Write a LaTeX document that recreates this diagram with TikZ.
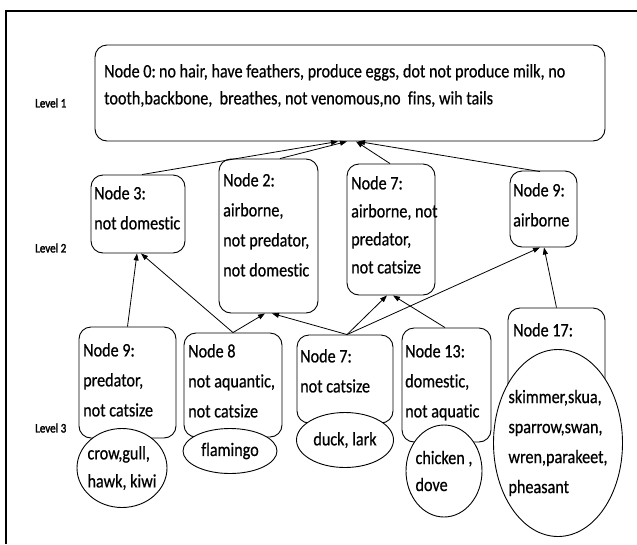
\documentclass[tikz,border=0pt]{standalone}
\usepackage{fontspec}
\setmainfont{Carlito}[FakeStretch=0.85, FakeBold=0.6, Ligatures=NoCommon]
\newfontfamily\lvlfont{Carlito}[FakeStretch=0.85, FakeBold=2, Ligatures=NoCommon]
\usetikzlibrary{arrows.meta,shapes.geometric}
\begin{document}
\begin{tikzpicture}[x=1pt,y=-1pt,
  box/.style={draw, rounded corners=12pt, line width=0.9pt, inner sep=0pt},
  blob/.style={draw, ellipse, fill=white, line width=0.9pt, inner sep=-30pt, align=left,
    font=\fontsize{19}{28}\selectfont},
  txt/.style={anchor=north west, inner sep=0pt, align=left, font=\fontsize{19}{30}\selectfont},
  lvl/.style={anchor=west, inner sep=0pt, font=\lvlfont\fontsize{13}{15}\selectfont},
  link/.style={line width=0.8pt, -{Triangle[length=7pt,width=5pt]}}]
\useasboundingbox (0,0) rectangle (637,544);
\draw[line width=2pt] (637,10.5) -- (6,10.5) -- (6,544);

% level labels
\node[lvl] (l1) at (35,103) {Level 1};
\node[lvl] (l2) at (35,248) {Level 2};
\node[lvl] (l3) at (35,428) {Level 3};

% level 1
\node[box, minimum width=510, minimum height=96] (n0) at (350,93) {};
\node[txt, font=\fontsize{19}{27}\selectfont] (t0) at (104,64)
  {Node 0:\,no hair, have feathers, produce eggs, dot not produce milk, no\\
   tooth,backbone,\ \ breathes,\ not venomous,no\ \ fins, wih tails};

% level 2
\node[box, minimum width=94, minimum height=78] (n3) at (138,214) {};
\node[txt] (t3) at (94,186) {Node 3:\\not domestic};
\node[box, minimum width=99, minimum height=154] (n2) at (268.5,236) {};
\node[txt] (t2) at (223,173) {Node 2:\\airborne,\\not predator,\\not domestic};
\node[box, minimum width=88, minimum height=131] (n7) at (391,229.5) {};
\node[txt, font=\fontsize{19}{28}\selectfont] (t7) at (351,176) {Node 7:\\airborne,\ not\\predator,\\not catsize};
\node[box, minimum width=67, minimum height=76] (n9) at (543.5,209) {};
\node[txt] (t9) at (513,183) {Node 9:\\airborne};

% level 3 boxes
\node[box, minimum width=97, minimum height=111] (m9) at (127.5,382.5) {};
\node[txt] (s9) at (83,343) {Node 9:\\predator,\\not catsize};
\node[box, minimum width=98, minimum height=104] (m8) at (233,385) {};
\node[txt] (s8) at (188,344) {Node 8\\not aquantic,\\not catsize};
\node[box, minimum width=96, minimum height=88] (m7) at (345,379) {};
\node[txt] (s7) at (300,349) {Node 7:\\not catsize};
\node[box, minimum width=89, minimum height=114] (m13) at (446.5,385) {};
\node[txt] (s13) at (405,344) {Node 13:\\domestic,\\not aquatic};
\node[box, minimum width=97, minimum height=122] (m17) at (556.5,369) {};
\node[txt] (s17) at (513,323) {Node 17:};

% leaves
\node[blob, minimum width=90, minimum height=79] (e9) at (122,468) {crow,gull,\\hawk, kiwi};
\node[blob, minimum width=94, minimum height=45] (e8) at (230,451) {flamingo};
\node[blob, minimum width=97, minimum height=55] (e7) at (345,440) {duck, lark};
\node[blob, minimum width=76, minimum height=92, font=\fontsize{19}{27}\selectfont] (e13) at (444,471) {chicken ,\\dove};
\node[blob, minimum width=129, minimum height=187, font=\fontsize{19}{30}\selectfont] (e17) at (558,443)
  {skimmer,skua,\\sparrow,swan,\\wren,parakeet,\\pheasant};

% level 2 -> level 1
\draw[link] ([xshift=4]n3.north) -- ([xshift=-12]n0.south);
\draw[link] ([xshift=11.5]n2.north) -- ([xshift=-3]n0.south);
\draw[link] ([xshift=-1]n7.north) -- ([xshift=6]n0.south);
\draw[link] ([xshift=-3.5,yshift=-1]n9.north) -- ([xshift=8]n0.south);

% level 3 -> level 2
\draw[link] (m9.north) -- ([xshift=-1]n3.south);
\draw[link] (m8.north) -- ([xshift=3]n3.south);
\draw[link] (m8.north) -- ([xshift=-3.5]n2.south);
\draw[link] ([xshift=2]m7.north) -- ([xshift=3.5]n2.south);
\draw[link] ([xshift=2]m7.north) -- ([xshift=-4]n7.south);
\draw[link] ([xshift=2]m7.north) -- ([xshift=-3.5]n9.south);
\draw[link] ([xshift=-1.5]m13.north) -- ([xshift=2]n7.south);
\draw[link] (m17.north) -- ([xshift=0.5]n9.south);
\end{tikzpicture}
\end{document}
